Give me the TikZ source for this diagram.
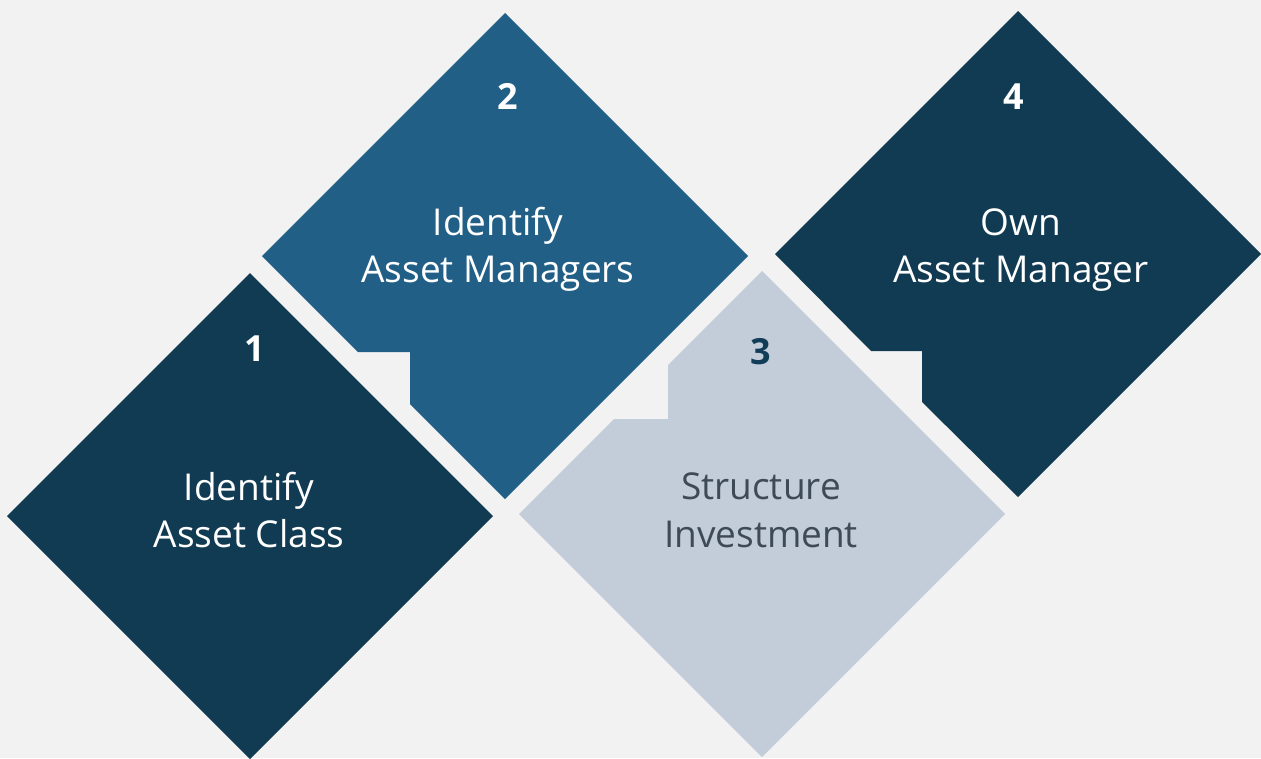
\documentclass[tikz,border=0pt]{standalone}
\usepackage{fontspec}
\setmainfont{Open Sans}[Ligatures=NoCommon]
\definecolor{pagebg}{HTML}{F2F2F2}
\definecolor{navy}{HTML}{113B52}
\definecolor{steel}{HTML}{215F87}
\definecolor{mist}{HTML}{C3CDDA}
\definecolor{slate}{HTML}{3E4A56}
\definecolor{numnavy}{HTML}{123D58}
\tikzset{
  tile/.style={draw=none},
  stepnum/.style={anchor=base, font=\fontsize{36}{36}\selectfont\bfseries, inner sep=0pt},
  steptext/.style={anchor=base, font=\fontsize{37}{37}\selectfont, inner sep=0pt},
}
\begin{document}
\begin{tikzpicture}[x=1pt,y=-1pt]
  % canvas
  \fill[pagebg] (0,0) rectangle (1261,758);
  \useasboundingbox (0,0) rectangle (1261,758);
  \clip (0,0) rectangle (1261,758);

  % step 1: plain diamond
  \fill[navy, tile] (7,516) -- (250,273) -- (493,516) -- (250,759) -- cycle;
  % step 2: diamond with a stepped cut on its lower-left edge
  \fill[steel, tile] (262,256) -- (505,13) -- (748,256) -- (505,499)
    -- (410,404) -- (410,352) -- (358,352) -- cycle;
  % step 3: diamond with a stepped cut on its upper-left edge
  \fill[mist, tile] (519,514) -- (614,419) -- (668,419) -- (668,365)
    -- (762,271) -- (1005,514) -- (762,757) -- cycle;
  % step 4: diamond with a stepped cut on its lower-left edge
  \fill[navy, tile] (775,254) -- (1018,11) -- (1261,254) -- (1018,497)
    -- (922,402) -- (922,351) -- (871,351) -- cycle;

  % labels
  \node[stepnum, white] (n1) at (255,361) {1};
  \node[steptext, white] (a1) at (249,500) {Identify};
  \node[steptext, white] (b1) at (249,547) {Asset Class};

  \node[stepnum, white] (n2) at (508,109) {2};
  \node[steptext, white] (a2) at (498,235) {Identify};
  \node[steptext, white] (b2) at (498,282) {Asset Managers};

  \node[stepnum, numnavy] (n3) at (761,364) {3};
  \node[steptext, slate] (a3) at (761,499) {Structure};
  \node[steptext, slate] (b3) at (761,547) {Investment};

  \node[stepnum, white] (n4) at (1014,109) {4};
  \node[steptext, white] (a4) at (1021,235) {Own};
  \node[steptext, white] (b4) at (1021,282) {Asset Manager};
\end{tikzpicture}
\end{document}
